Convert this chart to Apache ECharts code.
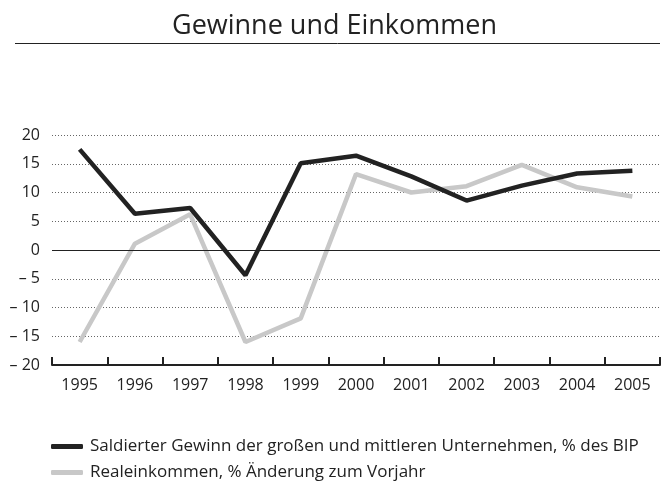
<!DOCTYPE html>
<html>
<head>
<meta charset="utf-8">
<script src="https://cdn.jsdelivr.net/npm/echarts@6/dist/echarts.min.js"></script>
<style>
  html, body { margin: 0; padding: 0; background: #fff; }
  #chart { width: 669px; height: 492px; }
</style>
</head>
<body>
<div id="chart"></div>
<script>
    const years = ['1995', '1996', '1997', '1998', '1999', '2000', '2001', '2002', '2003', '2004', '2005'];
    const gewinn = [17.5, 6.3, 7.3, -4.4, 15.1, 16.4, 12.8, 8.6, 11.2, 13.3, 13.8];
    const realeinkommen = [-16.0, 1.1, 6.2, -16.0, -11.9, 13.2, 10.0, 11.1, 14.8, 10.9, 9.3];
    const seriesNames = [
        'Saldierter Gewinn der großen und mittleren Unternehmen, % des BIP',
        'Realeinkommen, % Änderung zum Vorjahr',
    ];
    const font = 'Open Sans';

    function fmtTick(v) {
        // negative numbers written with an en dash and a space
        return v < 0 ? '\u2013 ' + Math.abs(v) : String(v);
    }

    const chart = echarts.init(document.getElementById('chart'));
    chart.setOption({
        animation: false,
        backgroundColor: '#fff',
        title: {
            text: 'Gewinne und Einkommen',
            left: 'center',
            top: 8,
            textStyle: { fontFamily: font, fontSize: 27, fontWeight: 'normal', color: '#222' },
        },
        graphic: [{
            type: 'line',
            shape: { x1: 15, y1: 43.5, x2: 660, y2: 43.5 },
            style: { stroke: '#222', lineWidth: 1 },
        }],
        legend: {
            orient: 'vertical',
            left: 46,
            top: 433,
            itemGap: 9,
            itemWidth: 32,
            itemHeight: 5,
            icon: 'roundRect',
            textStyle: { fontFamily: font, fontSize: 17, color: '#222', padding: [0, 0, 0, 2] },
            data: seriesNames,
        },
        grid: { left: 52, right: 9, top: 135, bottom: 127 },
        xAxis: {
            type: 'category',
            data: years,
            boundaryGap: true,
            axisLine: { show: true, onZero: false, lineStyle: { color: '#222', width: 2 } },
            axisTick: { show: true, inside: true, length: 8, lineStyle: { color: '#222', width: 2 } },
            axisLabel: { fontFamily: font, fontSize: 16, color: '#222', margin: 12 },
        },
        yAxis: {
            type: 'value',
            min: -20,
            max: 20,
            interval: 5,
            axisLine: { show: false },
            axisTick: { show: false },
            axisLabel: { fontFamily: font, fontSize: 16, color: '#222', margin: 12, formatter: fmtTick },
            splitLine: { show: true, lineStyle: { color: '#666', type: [1, 2], width: 1 } },
        },
        series: [
            {
                name: seriesNames[0],
                type: 'line',
                data: gewinn,
                symbol: 'none',
                lineStyle: { color: '#222', width: 4.5 },
                itemStyle: { color: '#222' },
                z: 3,
                markLine: {
                    silent: true,
                    symbol: 'none',
                    label: { show: false },
                    lineStyle: { color: '#222', type: 'solid', width: 1 },
                    data: [{ yAxis: 0 }],
                },
            },
            {
                name: seriesNames[1],
                type: 'line',
                data: realeinkommen,
                symbol: 'none',
                lineStyle: { color: '#c8c8c8', width: 4.5 },
                itemStyle: { color: '#c8c8c8' },
                z: 2,
            },
        ],
    });
</script>
</body>
</html>
